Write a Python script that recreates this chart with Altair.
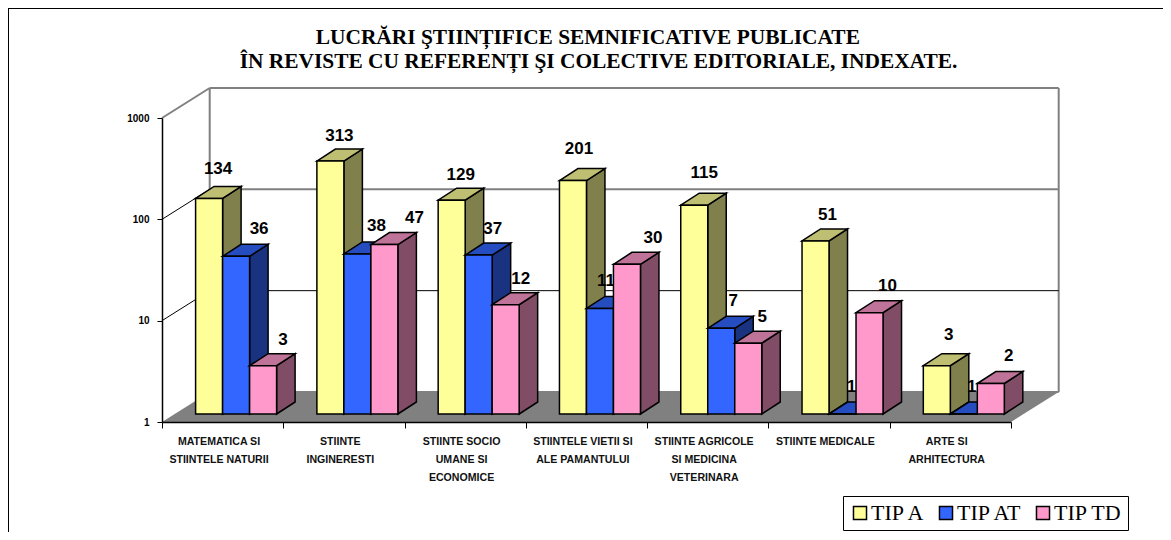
import altair as alt
import pandas as pd

# ---- data ----
categories = [
    "MATEMATICA SI\nSTIINTELE NATURII",
    "STIINTE\nINGINERESTI",
    "STIINTE SOCIO\nUMANE SI\nECONOMICE",
    "STIINTELE VIETII SI\nALE PAMANTULUI",
    "STIINTE AGRICOLE\nSI MEDICINA\nVETERINARA",
    "STIINTE MEDICALE",
    "ARTE SI\nARHITECTURA",
]
series_names = ["TIP A", "TIP AT", "TIP TD"]
tip_a = [134, 313, 129, 201, 115, 51, 3]
tip_at = [36, 38, 37, 11, 7, 1, 1]
tip_td = [3, 47, 12, 30, 5, 10, 2]
series_values = [tip_a, tip_at, tip_td]
y_ticks = [1, 10, 100, 1000]
title_lines = [
    "LUCRĂRI ŞTIINȚIFICE SEMNIFICATIVE PUBLICATE\u2002\u2005\u2005\u200b",
    "ÎN REVISTE CU REFERENȚI ŞI COLECTIVE EDITORIALE, INDEXATE.",
]

# small hand placement of the value labels, in pixels from the back top edge
nudge_x = [
    [9, 9, 9, 6, 10, 12, 12],
    [23, 19, 14, 6, 12, 9, 8],
    [20, 30, 15, 26, 14, 18, 18],
]
nudge_y = [
    [17, 13, 13, 20, 20, 14, 19],
    [15, 16, 14, 15, 15, 15, 15],
    [14, 15, 14, 14, 14, 15, 15],
]

# ---- styles and projection ----
front_colors = ["#FFFF99", "#3366FF", "#FF99CC"]
side_colors = ["#80804D", "#1A3380", "#804C66"]
top_colors = ["#BFBF73", "#264DBF", "#BF7399"]

PX_X = 849 / 7          # pixels per category
PX_DEC = 304 / 3        # pixels per decade


def up(px):
    """Factor on the log axis that raises a value by px pixels."""
    return 10 ** (px / PX_DEC)


BAR_START = 33.6 / PX_X
BAR_W = 27.0 / PX_X
BAR_DX = 18.5 / PX_X
BAR_UP = up(12)
BASE_UP = up(8)
WALL_DX = 47.7 / PX_X
WALL_UP = up(30)

xs = alt.Scale(domain=[0, 7], nice=False, zero=False)
ys = alt.Scale(type="log", domain=[1, 1000], nice=False)
color_scale = alt.Scale(domain=series_names, range=front_colors)

axis_common = dict(domainColor="black", tickColor="black", grid=False, title=None, zindex=1)
X = alt.X("x:Q", scale=xs, axis=alt.Axis(
    values=list(range(8)), labels=False, domainWidth=1.5, tickWidth=1, tickSize=6, **axis_common))
Y = alt.Y("y:Q", scale=ys, axis=alt.Axis(
    values=y_ticks, format="d", domainWidth=1.5, tickWidth=1, tickSize=5,
    labelFont="Liberation Sans", labelFontWeight="bold", labelFontSize=10,
    labelColor="black", labelPadding=8, **axis_common))

front, side, top, labels = [], [], [], []
for s, (name, values) in enumerate(zip(series_names, series_values)):
    for i, v in enumerate(values):
        x0 = i + BAR_START + s * BAR_W
        x1 = x0 + BAR_W
        vt = v * BASE_UP
        base = BASE_UP
        front.append(dict(series=name, cat=i, x=x0, x2=x1, y=vt, y2=base))
        side += [
            dict(series=name, cat=i, x=x1, y=vt, y2=base),
            dict(series=name, cat=i, x=x1 + BAR_DX, y=vt * BAR_UP, y2=base * BAR_UP),
        ]
        top += [
            dict(series=name, cat=i, x=x0, y=vt, y2=vt),
            dict(series=name, cat=i, x=x0 + BAR_DX, y=vt * BAR_UP, y2=vt),
            dict(series=name, cat=i, x=x1, y=vt * BAR_UP, y2=vt),
            dict(series=name, cat=i, x=x1 + BAR_DX, y=vt * BAR_UP, y2=vt * BAR_UP),
        ]
        labels.append(dict(
            series=name,
            label=str(v),
            x=(x0 + x1) / 2 + nudge_x[s][i] / PX_X,
            y=vt * BAR_UP * up(nudge_y[s][i]),
        ))
front = pd.DataFrame(front)
side = pd.DataFrame(side)
top = pd.DataFrame(top)
labels = pd.DataFrame(labels)

# floor
floor = alt.Chart(pd.DataFrame([
    dict(x=0, y=1, y2=1),
    dict(x=WALL_DX, y=WALL_UP, y2=1),
    dict(x=7, y=WALL_UP, y2=1),
    dict(x=7 + WALL_DX, y=WALL_UP, y2=WALL_UP),
])).mark_area(color="#808080", orient="vertical").encode(X, Y, y2="y2:Q")

# walls
gray_rows, black_rows = [], []
for t in [1000, 100]:
    gray_rows += [
        dict(g=f"h{t}", x=WALL_DX, y=t * WALL_UP),
        dict(g=f"h{t}", x=7 + WALL_DX, y=t * WALL_UP),
    ]
gray_rows += [
    dict(g="h1", x=WALL_DX, y=WALL_UP), dict(g="h1", x=7 + WALL_DX, y=WALL_UP),
    dict(g="vl", x=WALL_DX, y=WALL_UP), dict(g="vl", x=WALL_DX, y=1000 * WALL_UP),
    dict(g="vr", x=7 + WALL_DX, y=WALL_UP), dict(g="vr", x=7 + WALL_DX, y=1000 * WALL_UP),
    dict(g="d1000", x=0, y=1000), dict(g="d1000", x=WALL_DX, y=1000 * WALL_UP),
]
black_rows += [
    dict(g="h10", x=WALL_DX, y=10 * WALL_UP), dict(g="h10", x=7 + WALL_DX, y=10 * WALL_UP),
    dict(g="d100", x=0, y=100), dict(g="d100", x=WALL_DX, y=100 * WALL_UP),
    dict(g="d10", x=0, y=10), dict(g="d10", x=WALL_DX, y=10 * WALL_UP),
]
walls_gray = alt.Chart(pd.DataFrame(gray_rows)).mark_line(color="#808080", strokeWidth=2).encode(X, Y, detail="g:N")
walls_black = alt.Chart(pd.DataFrame(black_rows)).mark_line(color="black", strokeWidth=1).encode(X, Y, detail="g:N")

layers = [floor, walls_gray, walls_black]

stroke = dict(stroke="black", strokeWidth=1.5, strokeJoin="miter")
for s, name in enumerate(series_names):
    layers.append(alt.Chart(side[side.series == name]).mark_area(
        color=side_colors[s], orient="vertical", **stroke
    ).encode(X, Y, y2="y2:Q", detail="cat:N"))
    layers.append(alt.Chart(top[top.series == name]).mark_area(
        color=top_colors[s], orient="vertical", **stroke
    ).encode(X, Y, y2="y2:Q", detail="cat:N"))
    layers.append(alt.Chart(front[front.series == name]).mark_rect(**stroke).encode(
        X, x2="x2:Q", y=Y, y2="y2:Q",
        color=alt.Color("series:N", scale=color_scale, sort=series_names, legend=alt.Legend(
            title=None, orient="none", legendX=681, legendY=378, direction="horizontal",
            columns=3, columnPadding=9, padding=6, fillColor="white", strokeColor="black",
            symbolType="square", symbolSize=170, symbolStrokeColor="black", symbolStrokeWidth=1.5,
            symbolOpacity=1, labelFont="Liberation Serif", labelFontSize=22, labelColor="black",
            labelOffset=0, labelLimit=200,
        )),
    ))
    layers.append(alt.Chart(labels[labels.series == name]).mark_text(
        font="Liberation Sans", fontWeight="bold", fontSize=17, color="black", baseline="middle"
    ).encode(X, Y, text="label:N"))

cat_df = pd.DataFrame({
    "x": [i + 0.47 for i in range(7)],
    "y": [up(-15)] * 7,
    "label": categories,
})
cat_labels = alt.Chart(cat_df).mark_text(
    font="Liberation Sans", fontWeight="bold", fontSize=10.6, color="#111111",
    baseline="top", lineBreak="\n", lineHeight=18,
).encode(X, Y, text="label:N")
layers.append(cat_labels)

# outer frame of the picture
frame_left = alt.Chart(pd.DataFrame({"x": [-154 / PX_X], "y": [1000 * up(110)], "y2": [up(-300)]})).mark_rule(
    color="black", strokeWidth=2).encode(X, Y, y2="y2:Q")
frame_top = alt.Chart(pd.DataFrame({"x": [-154 / PX_X], "x2": [1001 / PX_X], "y": [1000 * up(110)]})).mark_rule(
    color="black", strokeWidth=2).encode(X, Y, x2="x2:Q")
layers += [frame_left, frame_top]

chart = alt.layer(*layers).properties(
    width=849,
    height=304,
    padding={"left": 154, "right": 152, "top": 110, "bottom": 110},
    autosize=alt.AutoSizeParams(type="none"),
    title=alt.TitleParams(
        text=title_lines, anchor="middle", dx=12, offset=0, dy=65,
        font="Liberation Serif", fontWeight="bold", fontSize=21.4, color="black", lineHeight=24,
    ),
).configure_view(stroke=None).resolve_scale(color="shared")

chart.save("out.html", embed_options={"renderer": "svg", "actions": False})
